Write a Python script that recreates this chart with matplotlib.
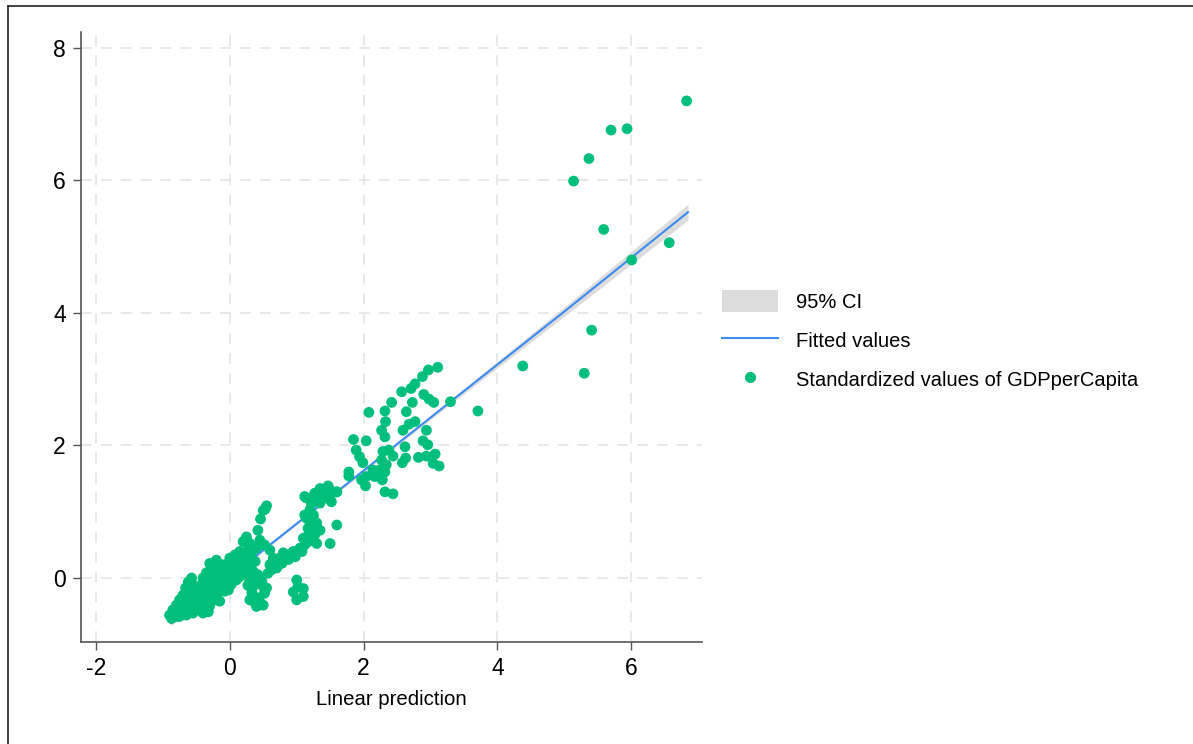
import numpy as np
import matplotlib.pyplot as plt
from matplotlib.lines import Line2D
from matplotlib.patches import Patch

plt.rcParams['font.family'] = ['Liberation Sans', 'DejaVu Sans']
plt.rcParams['axes.unicode_minus'] = False

# scatter: linear prediction vs standardized GDPperCapita
pred_x = [
    6.83, 5.70, 5.94, 5.37, 5.14, 5.59, 6.57, 6.01, 5.41, 4.38, 5.30, 3.71, 3.30,
    3.11, 2.97, 2.88, 2.77, 2.71, 2.57, 2.42, 2.32, 2.64, 2.73, 2.90, 2.98, 3.05,
    2.08, 2.33, 2.27, 2.32, 2.59, 2.68, 2.77, 2.94, 2.89, 2.96, 2.62, 1.85, 2.04,
    1.89, 1.94, 1.99, 2.29, 2.38, 2.44, 2.27, 2.34, 2.24, 2.32, 2.14, 2.17, 2.04,
    1.97, 2.03, 2.28, 2.32, 2.44, 2.58, 2.63, 2.82, 2.94, 3.07, 3.04, 3.13, 1.78,
    1.78,
    1.47, 1.35, 1.27, 1.14, 1.60, 1.50, 1.40, 1.35, 1.22, 1.20, 1.12, 1.25, 1.60,
    0.55, 0.53, 0.46,
    0.50, 0.42, 0.25, 0.20, 0.30, 0.45, 0.52, 0.60, 0.40, 0.27, 0.15, 0.12, 0.25,
    0.30, 0.35, 0.05, -0.05, 0.00, -0.15, -0.20, -0.30, -0.32, -0.40, -0.50, -0.60,
    -0.62, -0.65, -0.70, -0.75, -0.80, -0.85, -0.90, -0.87, -0.75, -0.65, -0.55,
    -0.40, -0.32, -0.37, -0.50, -0.60, -0.45, -0.35, -0.25, -0.20, -0.10, 0.00,
    -0.02, -0.30, -0.20, 0.10, 0.15, 0.22, -0.66, -0.57, -0.30, -0.20, -0.22,
    0.30, 0.40, 0.35, 0.27, 0.30, 0.40, 0.50, 0.45, 0.45, 0.50, 0.52, 0.57, 0.60,
    0.67, 0.75, 0.85, 0.95, 1.05, 1.12, 1.15, 1.17, 1.15, 1.20, 1.25, 1.30, 1.27,
    1.30, 1.35, 1.30, 1.40, 1.50, 1.60, 1.52, 1.50, 1.12, 1.00, 1.02, 1.10, 0.95,
    1.00, 1.10, 0.70,
    -0.80, -0.70, -0.60, -0.50, -0.45, -0.35, -0.25, -0.15, -0.05, 0.05, -0.72,
    -0.62, -0.52, -0.42, -0.10, 0.02, 0.10, 0.20, -0.85, -0.78, -0.68, -0.58,
    -0.48, -0.40, 0.35, 0.42, 0.90, 1.05, 0.80,
    -0.85, -0.80, -0.78, -0.72, -0.68, -0.62, -0.58, -0.55, -0.52, -0.48, -0.45,
    -0.42, -0.38, -0.35, -0.30, -0.28, -0.25, -0.22, -0.18, -0.15, -0.12, -0.08,
    -0.05, 0.02, 0.05, 0.08, 0.12, 0.18, 0.20, 0.25, 0.28, 0.32, 0.35, 0.38,
    -0.70, -0.65, -0.60, -0.55, -0.45, -0.40, -0.35, -0.28, -0.20, -0.10, 0.00,
    0.08,
    0.62, 0.70, 0.78, 0.88, 0.98, 1.08, 1.18, 0.65, 0.80, 1.22, 1.20, 1.25, 1.10,
    0.33, 0.42, 0.48, 0.38, 0.55,
]
gdp_std = [
    7.20, 6.76, 6.78, 6.33, 5.99, 5.26, 5.06, 4.80, 3.74, 3.20, 3.09, 2.52, 2.66,
    3.18, 3.14, 3.04, 2.93, 2.86, 2.81, 2.65, 2.52, 2.51, 2.65, 2.77, 2.70, 2.65,
    2.50, 2.36, 2.23, 2.13, 2.23, 2.32, 2.36, 2.23, 2.07, 2.01, 1.98, 2.09, 2.07,
    1.93, 1.83, 1.74, 1.91, 1.93, 1.84, 1.78, 1.71, 1.63, 1.60, 1.63, 1.53, 1.53,
    1.48, 1.39, 1.48, 1.30, 1.27, 1.74, 1.81, 1.82, 1.84, 1.87, 1.73, 1.69, 1.60,
    1.54,
    1.39, 1.35, 1.28, 1.21, 1.30, 1.18, 1.23, 1.13, 1.13, 1.00, 0.95, 0.90, 0.80,
    1.09, 1.04, 0.89,
    1.02, 0.72, 0.62, 0.55, 0.52, 0.57, 0.50, 0.42, 0.45, 0.40, 0.40, 0.27, 0.25,
    0.15, 0.10, 0.20, 0.20, 0.07, 0.12, 0.02, -0.03, 0.05, -0.08, -0.13, -0.08,
    -0.06, -0.18, -0.26, -0.33, -0.41, -0.48, -0.56, -0.61, -0.58, -0.56, -0.53,
    -0.53, -0.51, -0.41, -0.38, -0.33, -0.26, -0.21, -0.23, -0.13, -0.13, -0.08,
    -0.18, -0.33, -0.33, -0.03, 0.02, 0.07, -0.15, 0.00, 0.22, 0.27, 0.17,
    -0.03, -0.03, -0.13, -0.11, -0.33, -0.43, -0.41, -0.36, -0.03, -0.13, -0.23,
    0.07, 0.20, 0.25, 0.30, 0.35, 0.40, 0.45, 0.50, 0.62, 0.75, 0.90, 1.03, 1.15,
    1.23, 0.65, 0.83, 0.72, 0.52, 1.28, 1.33, 1.30, 1.15, 0.52, 1.23, -0.03, -0.13,
    -0.16, -0.21, -0.33, -0.28, 0.22,
    -0.50, -0.45, -0.40, -0.35, -0.30, -0.28, -0.20, -0.05, 0.05, 0.10, -0.40,
    -0.30, -0.25, -0.20, 0.05, 0.15, 0.22, 0.30, -0.52, -0.50, -0.46, -0.45,
    -0.42, -0.40, 0.00, 0.05, 0.35, 0.43, 0.30,
    -0.55, -0.50, -0.58, -0.52, -0.42, -0.48, -0.38, -0.45, -0.32, -0.45, -0.38,
    -0.28, -0.45, -0.33, -0.42, -0.15, -0.30, -0.08, -0.22, -0.35, -0.05, -0.20,
    0.05, -0.10, 0.12, 0.00, 0.15, 0.05, 0.30, 0.15, 0.50, 0.35, 0.45, 0.25,
    -0.35, -0.25, -0.20, -0.10, -0.15, 0.00, 0.08, 0.10, 0.12, 0.20, 0.30,
    0.35,
    0.12, 0.15, 0.22, 0.28, 0.32, 0.40, 0.55, 0.30, 0.38, 0.70, 0.85, 0.95, 0.60,
    -0.22, -0.30, -0.05, -0.38, -0.15,
]

# fitted line and 95% CI half-width at a few x positions
fit_x = [-0.88, 1.0, 3.0, 5.0, 6.85]
fit_y = [-0.68, 0.82, 2.42, 4.02, 5.52]
ci_half = [0.04, 0.02, 0.03, 0.07, 0.12]

green = '#00BF7D'
blue = '#3D8BF2'
ci_grey = '#DCDCDC'

fig = plt.figure(figsize=(11.93, 7.44), dpi=100)
ax = fig.add_axes([81 / 1193, 1 - 642 / 744, (702 - 81) / 1193, (642 - 32) / 744])

fx = np.array(fit_x)
fy = np.array(fit_y)
fh = np.array(ci_half)
ax.fill_between(fx, fy - fh, fy + fh, color=ci_grey, lw=0, zorder=2)
ax.plot(fx, fy, color=blue, lw=1.5, zorder=3)
ax.scatter(pred_x, gdp_std, s=60, color=green, edgecolors='none', zorder=4)

ax.set_xlim(-2.224, 7.06)
ax.set_ylim(-0.966, 8.24)
ax.set_xticks([-2, 0, 2, 4, 6])
ax.set_yticks([0, 2, 4, 6, 8])
ax.grid(True, color='#E6E6E6', lw=1.3, ls=(0, (6, 5)))
ax.set_axisbelow(True)
for side in ['top', 'right']:
    ax.spines[side].set_visible(False)
for side in ['left', 'bottom']:
    ax.spines[side].set_color('#555555')
    ax.spines[side].set_linewidth(1.2)
ax.tick_params(length=6, width=1.0, color='#555555', labelsize=16.5, pad=5)
ax.set_xlabel('Linear prediction', fontsize=14.7, labelpad=7)

handles = [
    Patch(facecolor=ci_grey, edgecolor='none'),
    Line2D([], [], color=blue, lw=1.5),
    Line2D([], [], color=green, marker='o', ls='none', markersize=7),
]
labels = ['95% CI', 'Fitted values', 'Standardized values of GDPperCapita']
fig.legend(handles, labels, loc='center left', bbox_to_anchor=(722 / 1193, 1 - 340 / 744),
           frameon=False, fontsize=14.5, handlelength=2.8, handleheight=1.3,
           handletextpad=0.85, labelspacing=0.85, borderpad=0, borderaxespad=0)

# outer frame (partly cropped in the original)
fig.add_artist(Line2D([8 / 1193, 1], [1 - 6 / 744, 1 - 6 / 744], color='#222222', lw=1.2))
fig.add_artist(Line2D([8 / 1193, 8 / 1193], [0, 1 - 6 / 744], color='#222222', lw=1.2))

plt.savefig('out.png', dpi=100)
plt.close()
